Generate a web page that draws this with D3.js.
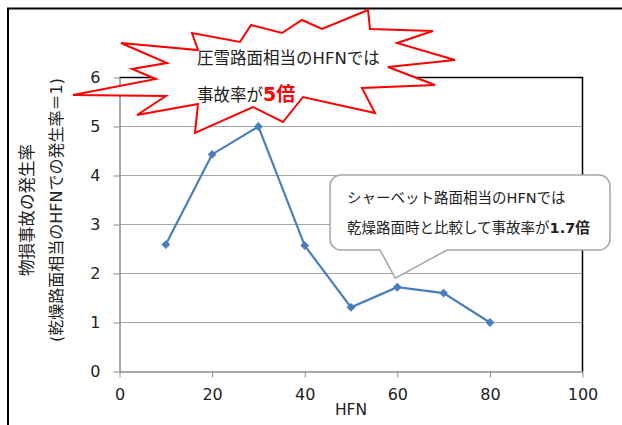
<!DOCTYPE html>
<html>
<head>
<meta charset="utf-8">
<script src="https://cdn.jsdelivr.net/npm/d3@7"></script>
<style>
  html, body { margin: 0; padding: 0; background: #fff; }
  svg { display: block; }
  text { font-family: "DejaVu Sans", "Noto Sans CJK JP", sans-serif; fill: #222; }
</style>
</head>
<body>
<svg id="chart" width="622" height="425"></svg>
<script>
// HFN values and the relative rate of property-damage accidents
const hfn = [10, 20, 30, 40, 50, 60, 70, 80];
const rate = [2.59, 4.43, 5.0, 2.57, 1.31, 1.72, 1.60, 1.0];

const xTicks = [0, 20, 40, 60, 80, 100];
const yTicks = [0, 1, 2, 3, 4, 5, 6];

const yTitle1 = "物損事故の発生率";
const yTitle2 = "(乾燥路面相当のHFNでの発生率＝1)";
const xTitle = "HFN";

const burstLine1 = "圧雪路面相当のHFNでは";
const burstLine2a = "事故率が";
const burstLine2b = "5倍";

const noteLine1 = "シャーベット路面相当のHFNでは";
const noteLine2a = "乾燥路面時と比較して事故率が";
const noteLine2b = "1.7倍";

const svg = d3.select("#chart");

const plot = { left: 119.5, right: 582.5, top: 77.5, bottom: 371.5 };
const x = d3.scaleLinear().domain([0, 100]).range([plot.left, plot.right]);
const y = d3.scaleLinear().domain([0, 6]).range([plot.bottom, plot.top]);

// outer chart frame (top and left edges)
svg.append("path")
  .attr("d", "M8,425 L8,8.5 L622,8.5")
  .attr("fill", "none").attr("stroke", "#000").attr("stroke-width", 2);

// horizontal gridlines
svg.append("g").selectAll("line")
  .data(yTicks.filter(v => v > 0 && v < 6))
  .join("line")
  .attr("x1", plot.left).attr("x2", plot.right)
  .attr("y1", d => y(d)).attr("y2", d => y(d))
  .attr("stroke", "#a6a6a6").attr("stroke-width", 1);

// plot-area border on top and right
svg.append("path")
  .attr("d", `M${plot.left},${plot.top} L${plot.right},${plot.top} L${plot.right},${plot.bottom}`)
  .attr("fill", "none").attr("stroke", "#000").attr("stroke-width", 1.5);

// axes
const xAxis = svg.append("g")
  .attr("transform", `translate(0,${plot.bottom})`)
  .call(d3.axisBottom(x).tickValues(xTicks).tickFormat(d3.format("d"))
    .tickSize(6).tickPadding(11).tickSizeOuter(0));
const yAxis = svg.append("g")
  .attr("transform", `translate(${plot.left},0)`)
  .call(d3.axisLeft(y).tickValues(yTicks).tickFormat(d3.format("d"))
    .tickSize(6).tickPadding(13).tickSizeOuter(0));

[xAxis, yAxis].forEach(g => {
  g.select(".domain").attr("stroke", "#8c8c8c").attr("stroke-width", 1.5);
  g.selectAll(".tick line").attr("stroke", "#8c8c8c");
  g.selectAll(".tick text")
    .style("font-family", '"DejaVu Sans", sans-serif')
    .style("font-size", "16px").attr("fill", "#222");
});

// axis titles
svg.append("text")
  .attr("x", (plot.left + plot.right) / 2).attr("y", 415)
  .attr("text-anchor", "middle").style("font-size", "15.5px")
  .text(xTitle);

svg.append("text")
  .attr("transform", "translate(33,210) rotate(-90)")
  .attr("text-anchor", "middle").style("font-size", "16.5px")
  .text(yTitle1);
svg.append("text")
  .attr("transform", "translate(62,210) rotate(-90)")
  .attr("text-anchor", "middle").style("font-size", "16px")
  .text(yTitle2);

// data series
const line = d3.line().x((d, i) => x(hfn[i])).y(d => y(d));
svg.append("path")
  .datum(rate)
  .attr("d", line)
  .attr("fill", "none").attr("stroke", "#4a7ebb").attr("stroke-width", 2.2);

svg.append("g").selectAll("path")
  .data(rate)
  .join("path")
  .attr("d", d3.symbol(d3.symbolDiamond2, 50))
  .attr("transform", (d, i) => `translate(${x(hfn[i])},${y(d)})`)
  .attr("fill", "#4a7ebb");

// explosion-shaped callout around the peak
const burstCenter = [264, 71];
const burstShape = [
  [-191, 24], [-108, 8], [-132, -2], [-97, -8], [-143, -28], [-66, -21],
  [-72, -38], [-24, -29], [-13, -46], [18, -38], [38, -51], [58, -42],
  [104, -61], [106, -42], [169, -40], [133, -28], [191, -11], [124, -4],
  [171, 14], [98, 17], [111, 42], [39, 26], [19, 51], [-11, 36],
  [-69, 62], [-66, 33], [-127, 44], [-98, 25]
];
svg.append("path")
  .attr("d", d3.line()(burstShape.map(p => [burstCenter[0] + p[0], burstCenter[1] + p[1]])) + "Z")
  .attr("fill", "#fff").attr("stroke", "#ff0000").attr("stroke-width", 2)
  .attr("stroke-linejoin", "miter");

svg.append("text")
  .attr("x", 197).attr("y", 64).style("font-size", "16.5px")
  .text(burstLine1);
const b2 = svg.append("text").attr("x", 197).attr("y", 101).style("font-size", "16.5px");
b2.append("tspan").text(burstLine2a);
b2.append("tspan").text(burstLine2b)
  .attr("fill", "#ff0000").style("fill", "#ff0000")
  .style("font-weight", "bold").style("font-size", "19px");

// rounded callout pointing at HFN 60
const tipX = x(60) - 2, tipY = y(rate[5]) - 9;
const bx0 = 330, bx1 = 610, by0 = 175, by1 = 250, r = 11;
const tail0 = 380, tail1 = 447;
const note = d3.path();
note.moveTo(bx0 + r, by0);
note.lineTo(bx1 - r, by0);
note.arcTo(bx1, by0, bx1, by0 + r, r);
note.lineTo(bx1, by1 - r);
note.arcTo(bx1, by1, bx1 - r, by1, r);
note.lineTo(tail1, by1);
note.lineTo(tipX, tipY);
note.lineTo(tail0, by1);
note.lineTo(bx0 + r, by1);
note.arcTo(bx0, by1, bx0, by1 - r, r);
note.lineTo(bx0, by0 + r);
note.arcTo(bx0, by0, bx0 + r, by0, r);
note.closePath();
svg.append("path")
  .attr("d", note.toString())
  .attr("fill", "#fff").attr("stroke", "#a6a6a6").attr("stroke-width", 1.5);

svg.append("text")
  .attr("x", 347).attr("y", 203).style("font-size", "14.5px")
  .text(noteLine1);
const n2 = svg.append("text").attr("x", 347).attr("y", 233).style("font-size", "14.5px");
n2.append("tspan").text(noteLine2a);
n2.append("tspan").text(noteLine2b).style("font-weight", "bold");
</script>
</body>
</html>
